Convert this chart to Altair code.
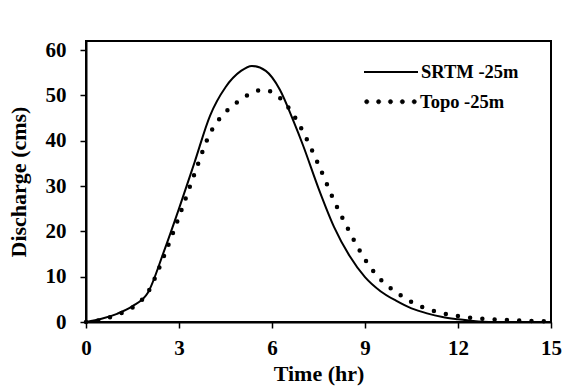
import altair as alt
import pandas as pd

# --- data ---
time_srtm = [0, 0.5, 1.0, 1.5, 2.0, 2.5, 3.0, 3.5, 4.0, 4.5, 5.0, 5.35, 5.8, 6.25,
             6.7, 7.0, 7.5, 8.0, 8.5, 9.0, 9.5, 10.0, 10.5, 11.0, 11.5, 12.0, 12.5,
             13.0, 14.0, 15.0]
q_srtm = [0, 0.7, 1.8, 3.5, 6.5, 15.3, 25.0, 35.2, 45.5, 51.8, 55.4, 56.5, 55.4, 51.3,
          44.2, 39.0, 29.5, 21.0, 14.6, 9.9, 6.8, 4.7, 3.0, 1.9, 1.1, 0.6, 0.2,
          0.0, 0.0, 0.0]

time_topo = [0, 0.5, 1.0, 1.5, 2.0, 2.5, 3.0, 3.5, 4.0, 4.5, 5.0, 5.5, 5.75, 6.0, 6.5,
             7.0, 7.5, 8.0, 8.5, 9.0, 9.5, 10.0, 10.5, 11.0, 11.5, 12.0, 12.5,
             13.0, 13.5, 14.0, 14.5, 15.0]
q_topo = [0, 0.5, 1.6, 3.2, 6.6, 14.3, 23.2, 32.7, 41.6, 46.3, 49.1, 51.0, 51.2, 50.7, 47.6,
          42.0, 34.7, 26.8, 19.9, 13.8, 9.4, 6.6, 4.4, 2.9, 1.95, 1.3, 0.85,
          0.6, 0.45, 0.3, 0.2, 0.15]

series_names = ["SRTM -25m", "Topo -25m"]
x_ticks = [0, 3, 6, 9, 12, 15]
y_ticks = [0, 10, 20, 30, 40, 50, 60]

df_s = pd.DataFrame({"time": time_srtm, "q": q_srtm, "series": series_names[0]})
df_t = pd.DataFrame({"time": time_topo, "q": q_topo, "series": series_names[1]})

FONT = "Liberation Serif"

x_enc = alt.X("time:Q", scale=alt.Scale(domain=[0, 15], nice=False, zero=False),
              axis=alt.Axis(values=x_ticks, title="Time (hr)", labelPadding=9,
                            titlePadding=5, labelFlush=False))
y_enc = alt.Y("q:Q", scale=alt.Scale(domain=[0, 62], nice=False),
              axis=alt.Axis(values=y_ticks, title="Discharge (cms)", labelPadding=14,
                            titlePadding=15, labelFlush=False))

legend_common = dict(title=None, orient="none", padding=0, clipHeight=20,
                     labelFont=FONT, labelFontSize=18.5, labelFontWeight="bold",
                     labelColor="black", labelOffset=2)

dots_path = " ".join(
    f"M{c - 0.08:.3f},0 a0.08,0.08 0 1,0 0.16,0 a0.08,0.08 0 1,0 -0.16,0 Z"
    for c in [-0.88, -0.44, 0.0, 0.44, 0.88]
)

solid = alt.Chart(df_s).mark_line(
    color="black", strokeWidth=2, interpolate="monotone"
).encode(
    x=x_enc, y=y_enc,
    color=alt.Color("series:N", scale=alt.Scale(domain=[series_names[0]], range=["black"]),
                    legend=alt.Legend(legendX=277, legendY=21, symbolType="stroke",
                                      symbolSize=2916, symbolStrokeWidth=2,
                                      **legend_common)),
)

dotted = alt.Chart(df_t).mark_line(
    color="black", strokeWidth=4.5, strokeDash=[0, 12.3], strokeCap="round",
    interpolate="monotone"
).encode(
    x=x_enc, y=y_enc,
    opacity=alt.Opacity("series:N", scale=alt.Scale(domain=[series_names[1]], range=[1]),
                        legend=alt.Legend(legendX=277, legendY=50.7, symbolType=dots_path,
                                          symbolSize=2916, symbolStrokeWidth=0.5,
                                          symbolFillColor="black", symbolStrokeColor="black",
                                          **legend_common)),
)

chart = alt.layer(solid, dotted).properties(
    width=465, height=281,
    padding={"left": 86, "top": 41, "right": 14, "bottom": 66},
    autosize="none",
    background="white",
).configure_axis(
    domainColor="black", domainWidth=2, tickColor="black", tickWidth=1.5, tickSize=6,
    labelFont=FONT, labelFontSize=21, labelFontWeight="bold", labelColor="black",
    titleFont=FONT, titleFontSize=22, titleFontWeight="bold", titleColor="black",
    grid=False,
).configure_view(stroke="black", strokeWidth=2)

chart.save("out.html", embed_options={"renderer": "svg", "actions": False})
